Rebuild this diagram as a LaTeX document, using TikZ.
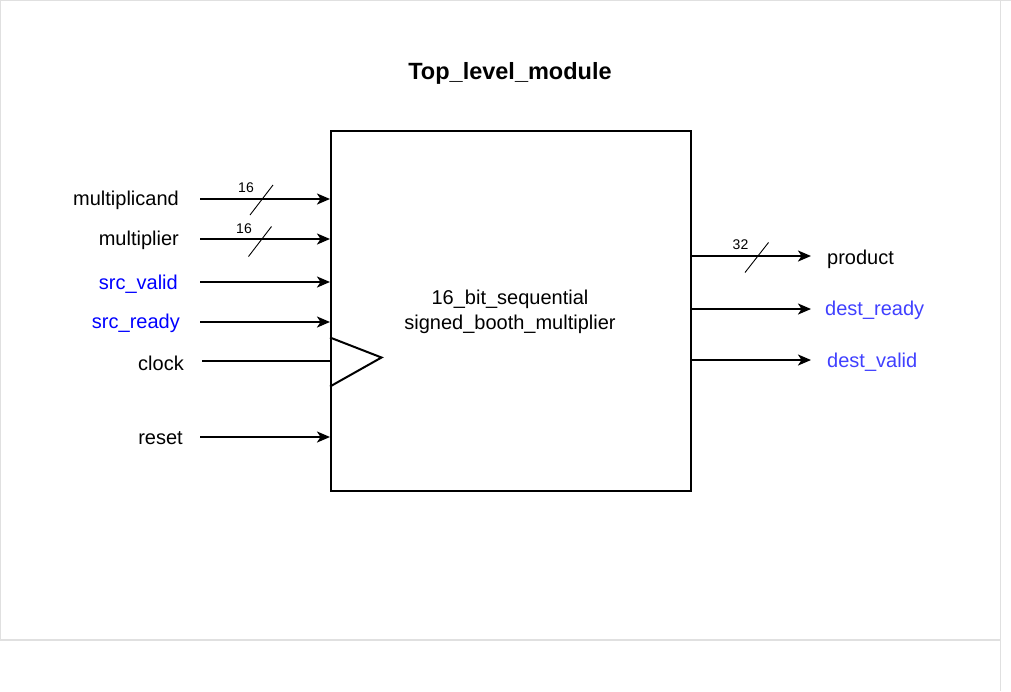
\documentclass[tikz,border=0pt]{standalone}
\usepackage{fontspec}
\setmainfont{Liberation Sans}
\usetikzlibrary{arrows.meta}
\definecolor{sigblue}{RGB}{0,0,255}
\definecolor{outblue}{RGB}{64,64,255}
\definecolor{framegray}{RGB}{224,224,224}
\begin{document}
\begin{tikzpicture}[x=1pt,y=-1pt,
  lbl/.style={font=\fontsize{20}{24}\selectfont, inner sep=0pt},
  num/.style={font=\fontsize{14}{16}\selectfont, inner sep=0pt},
  wire/.style={line width=2pt},
  sig/.style={wire, -{Stealth[length=13pt,width=11pt,inset=3.5pt]}},
  slash/.style={line width=0.9pt},
  frame/.style={draw=framegray, line width=1.2pt}]
\useasboundingbox (0,0) rectangle (1011,691);
% frame
\draw[frame] (0,0.6) -- (1011,0.6);
\draw[frame] (0.6,0) -- (0.6,640);
\draw[frame] (0,640) -- (1000.5,640);
\draw[frame] (1000.5,0) -- (1000.5,691);
% title
\node[lbl, font=\fontsize{23.5}{28}\selectfont\bfseries] (title) at (510,73) {Top\_level\_module};
% main box
\node[draw, line width=2pt, minimum width=360pt, minimum height=360pt, inner sep=0pt, anchor=north west] (box) at (330,130) {};
\node[lbl, align=center, font=\fontsize{20}{25}\selectfont] (boxtxt) at (510,312) {16\_bit\_sequential\\signed\_booth\_multiplier};
% clock triangle
\coordinate (tA) at (330,337.5);
\coordinate (tB) at (381.5,357.5);
\coordinate (tC) at (330,386.5);
\draw[wire, line join=miter] (tA) -- (tB) -- (tC);
% inputs
\node[lbl, anchor=east] (mcand) at (179,200.5) {multiplicand};
\node[lbl, anchor=east] (mplier) at (179,240.5) {multiplier};
\node[lbl, anchor=east, text=sigblue] (sv) at (178,284.5) {src\_valid};
\node[lbl, anchor=east, text=sigblue] (sr) at (180,323.5) {src\_ready};
\node[lbl, anchor=east] (clk) at (184,363.5) {clock};
\node[lbl, anchor=east] (rst) at (183,438.5) {reset};
\coordinate (imc) at (200,199); \coordinate (imcE) at (330,199);
\coordinate (imp) at (200,239); \coordinate (impE) at (330,239);
\coordinate (isv) at (200,282); \coordinate (isvE) at (330,282);
\coordinate (isr) at (200,322); \coordinate (isrE) at (330,322);
\coordinate (ick) at (202,361); \coordinate (ickE) at (331,361);
\coordinate (irs) at (200,437); \coordinate (irsE) at (330,437);
\draw[sig] (imc) -- (imcE);
\draw[sig] (imp) -- (impE);
\draw[sig] (isv) -- (isvE);
\draw[sig] (isr) -- (isrE);
\draw[wire] (ick) -- (ickE);
\draw[sig] (irs) -- (irsE);
% bus slashes
\coordinate (s1a) at (250,215); \coordinate (s1b) at (273,185);
\draw[slash] (s1a) -- (s1b);
\node[num] (n1) at (246,188) {16};
\coordinate (s2a) at (248.5,256.5); \coordinate (s2b) at (271.5,226.5);
\draw[slash] (s2a) -- (s2b);
\node[num] (n2) at (244,229) {16};
% outputs
\coordinate (opr) at (690,256); \coordinate (oprE) at (811,256);
\coordinate (odr) at (690,309); \coordinate (odrE) at (811,309);
\coordinate (odv) at (690,360); \coordinate (odvE) at (811,360);
\draw[sig] (opr) -- (oprE);
\draw[sig] (odr) -- (odrE);
\draw[sig] (odv) -- (odvE);
\coordinate (s3a) at (745,272.5); \coordinate (s3b) at (768.5,242.5);
\draw[slash] (s3a) -- (s3b);
\node[num] (n3) at (740.5,245) {32};
\node[lbl, anchor=west] (prod) at (827,259.5) {product};
\node[lbl, anchor=west, text=outblue] (dr) at (825,310.5) {dest\_ready};
\node[lbl, anchor=west, text=outblue] (dv) at (827,362.5) {dest\_valid};
\end{tikzpicture}
\end{document}
